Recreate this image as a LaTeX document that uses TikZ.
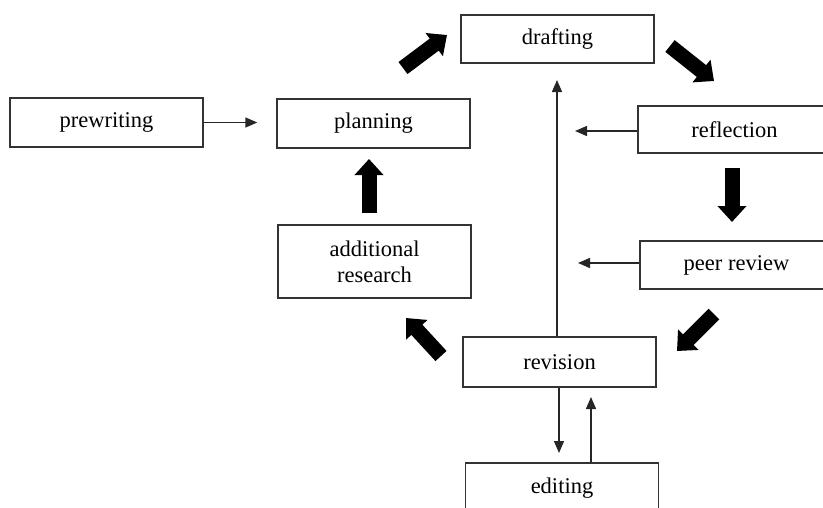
\documentclass[tikz,border=0pt]{standalone}
\usepackage{fontspec}
\setmainfont{Liberation Serif}
\usetikzlibrary{arrows.meta}
\tikzset{
  box/.style={draw=black!80, line width=1.4pt, fill=white, minimum width=193pt, inner sep=0pt, align=center, font=\fontsize{22.5}{26}\selectfont},
  thin/.style={draw=black!85, line width=1.4pt, -{Triangle[width=10pt,length=12pt]}},
  big/.style={draw=black, line width=15pt, -{Triangle[width=28pt,length=16pt]}}
}
\begin{document}
\begin{tikzpicture}[x=1pt,y=-1pt]
\useasboundingbox (0,0) rectangle (823,507);
\clip (0,0) rectangle (823,507);
\fill[white] (0,0) rectangle (823,507);
% boxes
\node[box, minimum height=49pt] (pre) at (106.5,122.5) {prewriting};
\node[box, minimum height=49pt] (plan) at (373.5,123.5) {planning};
\node[box, minimum height=73pt] (add) at (374.5,261.5) {additional\\research};
\node[box, minimum height=48pt] (draft) at (557.5,39) {drafting};
\node[box, minimum height=47pt] (refl) at (734.5,129.5) {reflection};
\node[box, minimum height=48pt] (peer) at (736.5,265) {peer review};
\node[box, minimum height=50pt] (rev) at (559.5,362) {revision};
\node[box, minimum height=50pt] (edit) at (562,488) {editing};
% free ends
\coordinate (top) at (557,80);
\coordinate (reflend) at (575,131);
\coordinate (peerend) at (578,263);
\coordinate (downend) at (559,453);
\coordinate (upend) at (591,397);
% thin arrows
\draw[thin, shorten >=19pt] (pre.east) -- (pre.east -| plan.west);
\draw[thin] (rev.north -| top) -- (top);
\draw[thin] (reflend -| refl.west) -- (reflend);
\draw[thin] (peerend -| peer.west) -- (peerend);
\draw[thin] (rev.south -| downend) -- (downend);
\draw[thin] (edit.north -| upend) -- (upend);
% big arrows
\coordinate (b1s) at (403,68);  \coordinate (b1e) at (447,35);
\coordinate (b2s) at (670,46);  \coordinate (b2e) at (714,81);
\coordinate (b3s) at (732,168); \coordinate (b3e) at (732,222);
\coordinate (b4s) at (714,314); \coordinate (b4e) at (677,351);
\coordinate (b5s) at (441,356); \coordinate (b5e) at (406,318);
\coordinate (b6s) at (369,213); \coordinate (b6e) at (369,159);
\draw[big] (b1s) -- (b1e);
\draw[big] (b2s) -- (b2e);
\draw[big] (b3s) -- (b3e);
\draw[big] (b4s) -- (b4e);
\draw[big] (b5s) -- (b5e);
\draw[big] (b6s) -- (b6e);
\end{tikzpicture}
\end{document}
